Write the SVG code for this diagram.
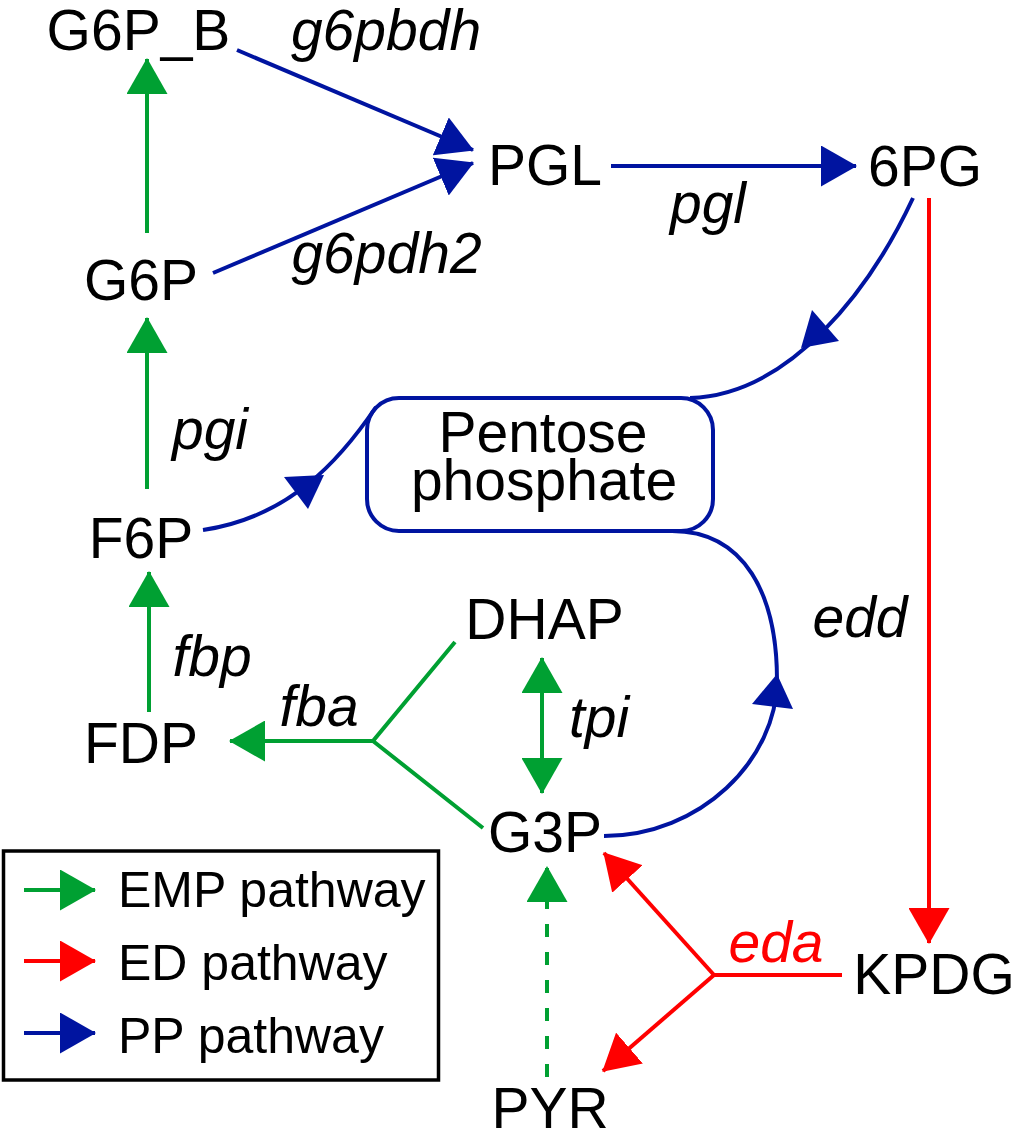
<svg xmlns="http://www.w3.org/2000/svg" width="1016" height="1143" viewBox="0 0 1016 1143">
<style>
.t{font-family:"Liberation Sans",Arial,sans-serif;font-size:57px;fill:#000;text-anchor:middle}
.i{font-style:italic}
.lg{font-family:"Liberation Sans",Arial,sans-serif;font-size:50px;fill:#000}
.g{stroke:#00A032;stroke-width:4;fill:none}
.b{stroke:#0014A0;stroke-width:4;fill:none}
.r{stroke:#FF0000;stroke-width:4;fill:none}
</style>
<defs>
<marker id="ag" viewBox="0 0 36 41" markerWidth="36" markerHeight="41" refX="35" refY="20.5" orient="auto-start-reverse" markerUnits="userSpaceOnUse"><path d="M0,0 L36,20.5 L0,41 z" fill="#00A032"/></marker>
<marker id="ab" viewBox="0 0 36 41" markerWidth="36" markerHeight="41" refX="35" refY="20.5" orient="auto" markerUnits="userSpaceOnUse"><path d="M0,0 L36,20.5 L0,41 z" fill="#0014A0"/></marker>
<marker id="ar" viewBox="0 0 36 41" markerWidth="36" markerHeight="41" refX="35" refY="20.5" orient="auto" markerUnits="userSpaceOnUse"><path d="M0,0 L36,20.5 L0,41 z" fill="#FF0000"/></marker>
</defs>
<rect width="1016" height="1143" fill="#fff"/>

<g id="connectors">
  <!-- EMP (green) -->
  <line class="g" x1="147" y1="489" x2="147" y2="318" marker-end="url(#ag)"/>
  <line class="g" x1="147" y1="233" x2="147" y2="59" marker-end="url(#ag)"/>
  <line class="g" x1="149" y1="712" x2="149" y2="572" marker-end="url(#ag)"/>
  <polyline class="g" points="455,642 373,741 483,828"/>
  <line class="g" x1="373" y1="741" x2="230" y2="741" marker-end="url(#ag)"/>
  <line class="g" x1="542" y1="658" x2="542" y2="793" marker-start="url(#ag)" marker-end="url(#ag)"/>
  <line class="g" x1="547" y1="1077" x2="547" y2="867" stroke-dasharray="13 15" marker-end="url(#ag)"/>
  <!-- PP (blue) -->
  <line class="b" x1="237" y1="50" x2="473" y2="150" marker-end="url(#ab)"/>
  <line class="b" x1="213" y1="273" x2="473" y2="163" marker-end="url(#ab)"/>
  <line class="b" x1="611" y1="166" x2="856" y2="166" marker-end="url(#ab)"/>
  <path class="b" d="M913,198 C870,290 790,395 690,398"/>
  <polygon points="812,310 839,341 801,348" fill="#0014A0"/>
  <path class="b" d="M203,530 C290,517 340,460 376,407"/>
  <polygon points="284,477 324,475 308,509" fill="#0014A0"/>
  <path class="b" d="M672,531 C745,531 777,595 777,680 C777,760 700,836 604,836"/>
  <polygon points="777,674 793,709 752,704" fill="#0014A0"/>
  <!-- ED (red) -->
  <line class="r" x1="929" y1="198" x2="929" y2="943" marker-end="url(#ar)"/>
  <line class="r" x1="842" y1="975" x2="714" y2="975"/>
  <line class="r" x1="714" y1="975" x2="604" y2="853" marker-end="url(#ar)"/>
  <line class="r" x1="714" y1="975" x2="603" y2="1071" marker-end="url(#ar)"/>
</g>

<g id="G6P_B"><text class="t" x="138.5" y="50">G6P_B</text></g>
<g id="PGL"><text class="t" x="545" y="185">PGL</text></g>
<g id="6PG"><text class="t" x="925" y="186">6PG</text></g>
<g id="G6P"><text class="t" x="141" y="300">G6P</text></g>
<g id="PentosePhosphate">
  <rect class="b" x="367" y="398" width="346" height="133" rx="32" ry="32"/>
  <text class="t"><tspan x="543" y="452">Pentose</tspan><tspan x="544" y="500">phosphate</tspan></text>
</g>
<g id="F6P"><text class="t" x="141" y="558">F6P</text></g>
<g id="DHAP"><text class="t" x="544.5" y="639">DHAP</text></g>
<g id="FDP"><text class="t" x="141" y="763">FDP</text></g>
<g id="G3P"><text class="t" x="545" y="852">G3P</text></g>
<g id="KPDG"><text class="t" x="934" y="994">KPDG</text></g>
<g id="PYR"><text class="t" x="550" y="1128">PYR</text></g>

<g id="labels">
  <text class="t i" x="386" y="50">g6pbdh</text>
  <text class="t i" x="386.5" y="273">g6pdh2</text>
  <text class="t i" x="708" y="223">pgl</text>
  <text class="t i" x="210" y="449">pgi</text>
  <text class="t i" x="212" y="676">fbp</text>
  <text class="t i" x="319" y="726">fba</text>
  <text class="t i" x="599" y="737">tpi</text>
  <text class="t i" x="860" y="637">edd</text>
  <text class="t i" x="776" y="962" style="fill:#FF0000">eda</text>
</g>

<g id="legend">
  <rect x="3.5" y="851" width="435" height="229" fill="none" stroke="#000" stroke-width="3.5"/>
  <line class="g" x1="24" y1="890" x2="95" y2="890" marker-end="url(#ag)"/>
  <line class="r" x1="24" y1="961" x2="95" y2="961" marker-end="url(#ar)"/>
  <line class="b" x1="24" y1="1033" x2="95" y2="1033" marker-end="url(#ab)"/>
  <text class="lg" x="118" y="907">EMP pathway</text>
  <text class="lg" x="118" y="980">ED pathway</text>
  <text class="lg" x="118" y="1053">PP pathway</text>
</g>
</svg>
